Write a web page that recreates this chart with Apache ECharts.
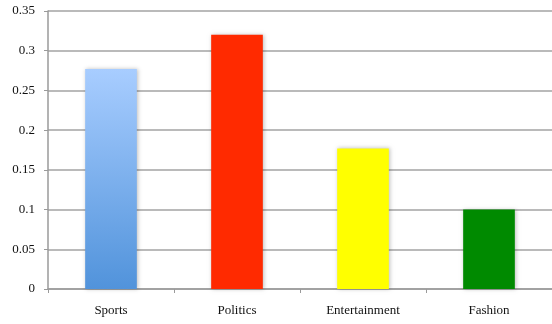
<!DOCTYPE html>
<html>
<head>
<meta charset="utf-8">
<script src="https://cdn.jsdelivr.net/npm/echarts@6/dist/echarts.min.js"></script>
<style>
  html, body { margin: 0; padding: 0; background: #fff; }
  #chart { width: 552px; height: 324px; }
</style>
</head>
<body>
<div id="chart"></div>
<script>
const categories = ['Sports', 'Politics', 'Entertainment', 'Fashion'];
const values = [0.277, 0.32, 0.177, 0.1];
const yTicks = [0, 0.05, 0.1, 0.15, 0.2, 0.25, 0.3, 0.35];

const barColors = [
  new echarts.graphic.LinearGradient(0, 0, 0, 1, [
    { offset: 0, color: '#a8cdff' },
    { offset: 1, color: '#5193db' }
  ]),
  '#ff2a00',
  '#ffff00',
  '#008a00'
];

const FONT = '"Liberation Serif", "DejaVu Serif", serif';

const inst = echarts.init(document.getElementById('chart'), null, { renderer: 'canvas' });

inst.setOption({
  backgroundColor: '#fff',
  animation: false,
  grid: { left: 48, right: -4, top: 11, bottom: 35, containLabel: false },
  xAxis: {
    type: 'category',
    data: categories,
    axisLine: { lineStyle: { color: '#9a9a9a', width: 1.5 } },
    axisTick: { show: true, alignWithLabel: false, length: 4, lineStyle: { color: '#9a9a9a' } },
    axisLabel: { color: '#111', fontFamily: FONT, fontSize: 13, margin: 15 },
    splitLine: { show: false }
  },
  yAxis: {
    type: 'value',
    min: 0,
    max: 0.35,
    interval: 0.05,
    axisLine: { show: true, lineStyle: { color: '#9a9a9a', width: 1.5 } },
    axisTick: { show: true, length: 4, lineStyle: { color: '#9a9a9a' } },
    axisLabel: {
      color: '#111',
      fontFamily: FONT,
      fontSize: 13,
      margin: 13,
      formatter: (v) => {
        const t = yTicks.find((k) => Math.abs(k - v) < 1e-9);
        return String(t !== undefined ? t : v);
      }
    },
    splitLine: { lineStyle: { color: '#a3a3a3', width: 1.5 } }
  },
  series: [{
    type: 'bar',
    barWidth: '41%',
    data: values.map((v, i) => ({
      value: v,
      itemStyle: {
        color: barColors[i],
        shadowColor: 'rgba(0,0,0,0.25)',
        shadowBlur: 4,
        shadowOffsetX: 1,
        shadowOffsetY: 0
      }
    }))
  }]
});
</script>
</body>
</html>
